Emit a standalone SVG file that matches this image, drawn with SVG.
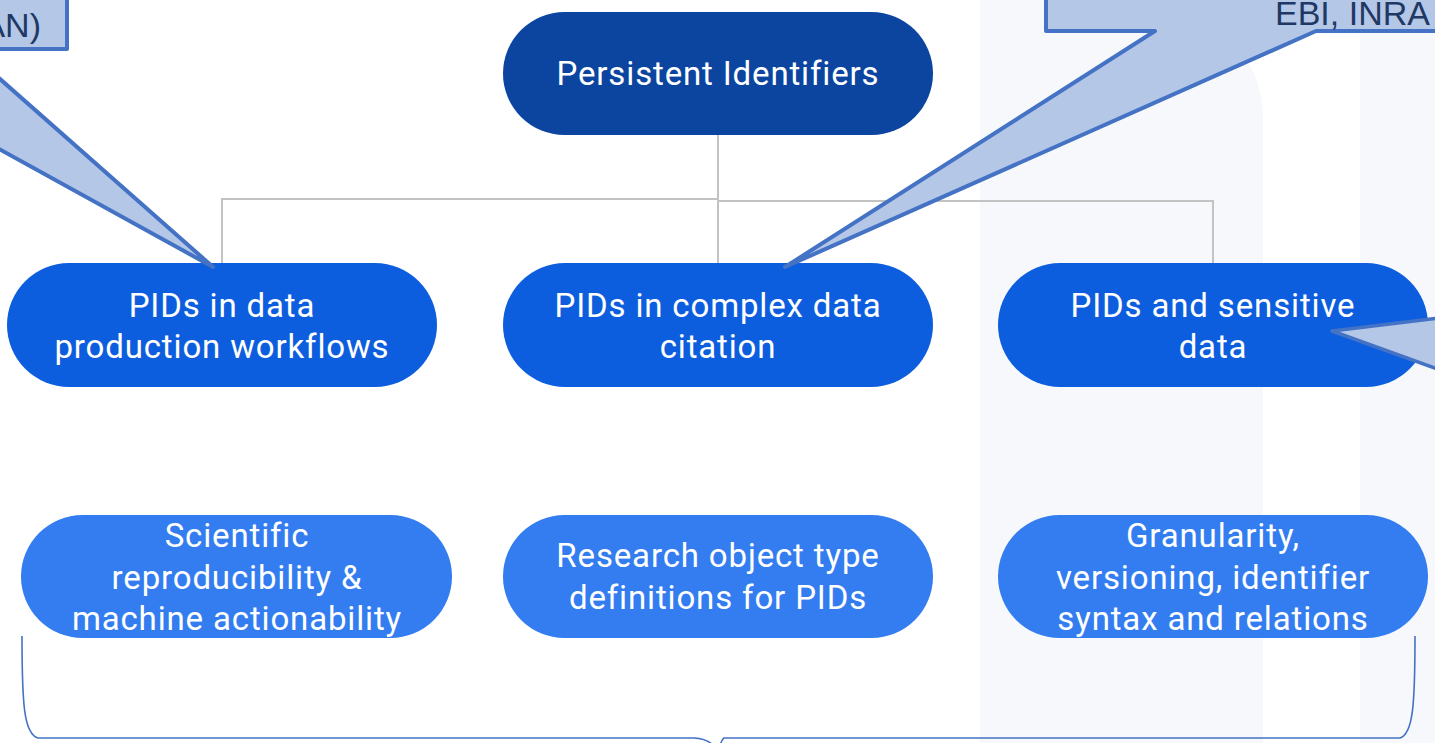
<svg xmlns="http://www.w3.org/2000/svg" width="1435" height="743" viewBox="0 0 1435 743">
<style>
.pill-top{fill:#0b45a0}
.pill-l2{fill:#0d5ede}
.pill-l3{fill:#337df0}
.lbl{font-family:Roboto,"Liberation Sans",sans-serif;font-size:33px;letter-spacing:0.85px;fill:#ffffff;text-anchor:middle}
.conn{fill:none;stroke:#c3c3c3;stroke-width:2}
.callout{fill:#b4c7e7;stroke:#4472c4;stroke-width:4;stroke-linejoin:round}
.ctext{font-family:"Liberation Sans",Arial,sans-serif;font-size:34px;fill:#1f3864}
.brace{fill:none;stroke:#4472c4;stroke-width:1.6}
</style>
<rect width="1435" height="743" fill="#ffffff"/>
<g id="background">
<path d="M980,-10 L1154,-10 L1154,8 A109,109 0 0 1 1263,117 L1263,743 L980,743 Z" fill="#f6f8fb"/>
<rect x="1360" y="0" width="75" height="743" fill="#f6f8fb"/>
</g>
<g id="connectors">
<path class="conn" d="M718,135 L718,263"/>
<path class="conn" d="M718,199 L222,199 L222,263"/>
<path class="conn" d="M718,201 L1213,201 L1213,263"/>
</g>
<g id="node-persistent">
<rect class="pill-top" x="503" y="12" width="430" height="123" rx="61.5"/>
<text class="lbl" x="718" y="85">Persistent Identifiers</text>
</g>
<g id="node-workflows">
<rect class="pill-l2" x="7" y="263" width="430" height="124" rx="62"/>
<text class="lbl" x="222" y="317">PIDs in data</text>
<text class="lbl" x="222" y="358">production workflows</text>
</g>
<g id="node-citation">
<rect class="pill-l2" x="503" y="263" width="430" height="124" rx="62"/>
<text class="lbl" x="718" y="317">PIDs in complex data</text>
<text class="lbl" x="718" y="358">citation</text>
</g>
<g id="node-sensitive">
<rect class="pill-l2" x="998" y="263" width="430" height="124" rx="62"/>
<text class="lbl" x="1213" y="317">PIDs and sensitive</text>
<text class="lbl" x="1213" y="358">data</text>
</g>
<g id="node-reproducibility">
<rect class="pill-l3" x="21" y="515" width="431" height="123" rx="61.5"/>
<text class="lbl" x="237" y="547">Scientific</text>
<text class="lbl" x="237" y="589">reproducibility &amp;</text>
<text class="lbl" x="237" y="630">machine actionability</text>
</g>
<g id="node-types">
<rect class="pill-l3" x="503" y="515" width="430" height="123" rx="61.5"/>
<text class="lbl" x="718" y="567">Research object type</text>
<text class="lbl" x="718" y="609">definitions for PIDs</text>
</g>
<g id="node-granularity">
<rect class="pill-l3" x="998" y="515" width="430" height="123" rx="61.5"/>
<text class="lbl" x="1213" y="547">Granularity,</text>
<text class="lbl" x="1213" y="589">versioning, identifier</text>
<text class="lbl" x="1213" y="630">syntax and relations</text>
</g>
<g id="callout-left">
<path class="callout" d="M-400,-100 L67,-100 L67,49 L-34,49 L213,267 L-182,49 L-400,49 Z"/>
<text class="ctext" x="41" y="37" text-anchor="end">AN)</text>
</g>
<g id="callout-top-right">
<path class="callout" d="M1046,-100 L1600,-100 L1600,31 L1316,31 L785,267 L1155,31 L1046,31 Z"/>
<text class="ctext" x="1275" y="25">EBI, INRA</text>
</g>
<g id="callout-right">
<path class="callout" d="M1600,300 L1440,318 L1332,331 L1440,370 L1600,400 Z" style="stroke-width:3.5"/>
</g>
<g id="brace">
<path class="brace" d="M22,636 C22,705 24,734 38,738 L694,738 Q712,739 718,752"/>
<path class="brace" d="M1415,636 C1415,705 1413,734 1400,738 L724,738 Q721,740 718,752"/>
</g>
</svg>
